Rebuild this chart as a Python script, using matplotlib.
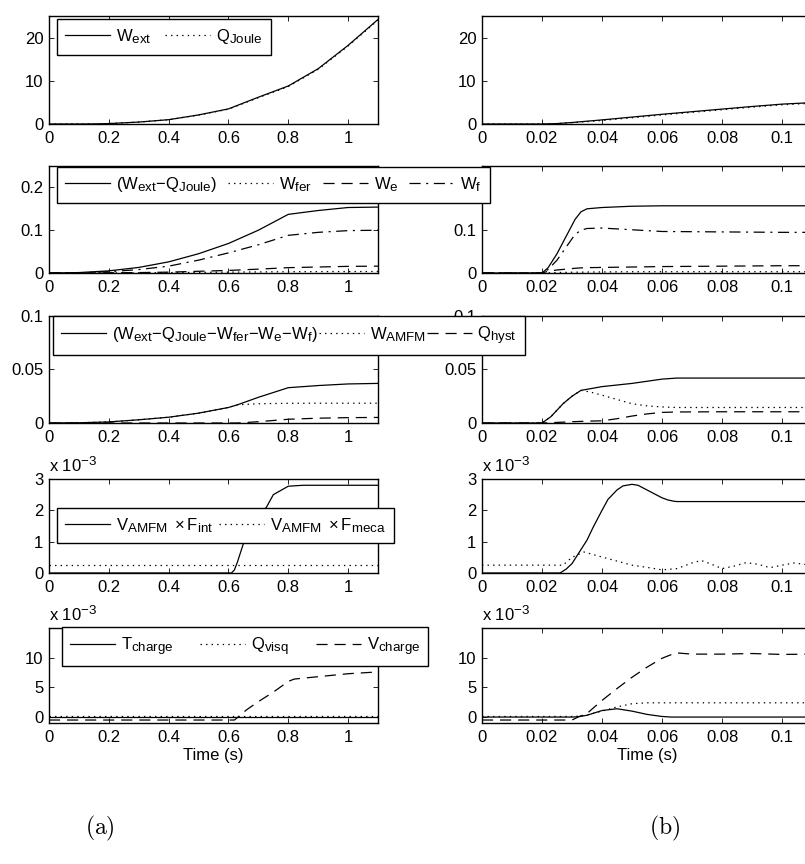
import numpy as np
import matplotlib
matplotlib.use('Agg')
import matplotlib.pyplot as plt
from matplotlib.ticker import FuncFormatter
import matplotlib._mathtext as mt

# MATLAB-style sub/superscripts are a bit larger than mathtext default
mt.SHRINK_FACTOR = 0.8

plt.rcParams['font.family'] = ['Liberation Sans', 'DejaVu Sans']
plt.rcParams['mathtext.fontset'] = 'custom'
plt.rcParams['mathtext.rm'] = 'Liberation Sans'
plt.rcParams['mathtext.it'] = 'Liberation Sans'
plt.rcParams['lines.scale_dashes'] = False

# ---- data (a): slow ramp, (b): fast ramp ----
# row 1: energies
t_a1 = [0, 0.1, 0.15, 0.2, 0.3, 0.4, 0.5, 0.6, 0.7, 0.8, 0.9, 1.0, 1.1]
wext_a = [0, 0, 0.02, 0.1, 0.45, 1.0, 2.1, 3.5, 6.2, 8.8, 12.8, 18.2, 24.2]
qjoule_a = [0, 0, 0.02, 0.1, 0.44, 0.99, 2.07, 3.43, 6.1, 8.66, 12.65, 18.05, 24.05]
t_b1 = [0, 0.02, 0.025, 0.03, 0.035, 0.04, 0.05, 0.06, 0.07, 0.08, 0.09, 0.1, 0.11]
wext_b = [0, 0, 0.1, 0.35, 0.65, 0.95, 1.6, 2.25, 2.85, 3.45, 4.05, 4.6, 4.95]
qjoule_b = [0, 0, 0.09, 0.31, 0.55, 0.82, 1.45, 2.1, 2.7, 3.3, 3.9, 4.45, 4.8]

# row 2
t_a2 = [0, 0.1, 0.2, 0.3, 0.4, 0.5, 0.6, 0.7, 0.8, 0.9, 1.0, 1.1]
dw_a = [0, 0.001, 0.005, 0.013, 0.026, 0.045, 0.069, 0.1, 0.137, 0.146, 0.153, 0.154]
wfer_a = [0, 0, 0.0002, 0.0005, 0.001, 0.0015, 0.002, 0.0025, 0.003, 0.0032, 0.0034, 0.0035]
we_a = [0, 0, 0.0005, 0.001, 0.002, 0.004, 0.006, 0.009, 0.0125, 0.014, 0.0155, 0.016]
wf_a = [0, 0.0005, 0.003, 0.008, 0.016, 0.03, 0.047, 0.066, 0.088, 0.095, 0.099, 0.1]
t_b2 = [0, 0.02, 0.022, 0.025, 0.028, 0.031, 0.033, 0.035, 0.04, 0.05, 0.06, 0.08, 0.1, 0.11]
dw_b = [0, 0, 0.012, 0.045, 0.085, 0.125, 0.143, 0.15, 0.153, 0.156, 0.157, 0.157, 0.157, 0.157]
wfer_b = [0, 0, 0.0005, 0.001, 0.0015, 0.002, 0.002, 0.0022, 0.0025, 0.003, 0.003, 0.003, 0.003, 0.003]
we_b = [0, 0, 0.004, 0.007, 0.009, 0.011, 0.012, 0.0125, 0.013, 0.014, 0.015, 0.016, 0.017, 0.017]
wf_b = [0, 0, 0.008, 0.03, 0.06, 0.09, 0.1, 0.104, 0.105, 0.101, 0.097, 0.096, 0.095, 0.095]

# row 3
t_a3 = [0, 0.1, 0.2, 0.3, 0.4, 0.5, 0.6, 0.63, 0.7, 0.8, 0.9, 1.0, 1.1]
rest_a = [0, 0.0002, 0.001, 0.003, 0.0054, 0.0092, 0.0145, 0.017, 0.024, 0.033, 0.035, 0.0365, 0.037]
wamfm_a = [0, 0.0002, 0.001, 0.003, 0.0054, 0.0092, 0.0145, 0.017, 0.018, 0.0184, 0.0185, 0.0185, 0.0185]
qhyst_a = [0, 0, 0, 0, 0, 0, 0, 0, 0.0012, 0.0035, 0.0045, 0.005, 0.0052]
t_b3 = [0, 0.02, 0.023, 0.027, 0.03, 0.033, 0.036, 0.04, 0.045, 0.05, 0.055, 0.06, 0.065, 0.08, 0.1, 0.11]
rest_b = [0, 0, 0.006, 0.018, 0.025, 0.0305, 0.032, 0.034, 0.0355, 0.037, 0.039, 0.041, 0.042, 0.042, 0.042, 0.042]
wamfm_b = [0, 0, 0.006, 0.018, 0.025, 0.0305, 0.029, 0.026, 0.022, 0.018, 0.016, 0.015, 0.0145, 0.0145, 0.0145, 0.0145]
qhyst_b = [0, 0, 0.0003, 0.0008, 0.0012, 0.0015, 0.0018, 0.002, 0.004, 0.0065, 0.0085, 0.0099, 0.0103, 0.0105, 0.0105, 0.0105]

# row 4: powers, in units of 1e-3
t_a4 = [0, 0.6, 0.61, 0.62, 0.63, 0.65, 0.67, 0.7, 0.727, 0.75, 0.8, 0.85, 0.9, 1.0, 1.1]
pint_a = [0, 0, 0, 0.1, 0.35, 0.94, 1.3, 1.84, 2.1, 2.5, 2.77, 2.8, 2.8, 2.8, 2.8]
t_a4m = [0, 1.1]
pmeca_a = [0.25, 0.25]
t_b4 = [0, 0.026, 0.028, 0.03, 0.032, 0.035, 0.037, 0.04, 0.042, 0.045, 0.047, 0.05, 0.052,
        0.055, 0.057, 0.06, 0.062, 0.064, 0.065, 0.08, 0.1, 0.11]
pint_b = [0, 0, 0.12, 0.3, 0.6, 1.05, 1.45, 2.0, 2.35, 2.65, 2.78, 2.83, 2.8,
          2.65, 2.55, 2.4, 2.33, 2.29, 2.28, 2.28, 2.28, 2.28]
t_b4m = [0, 0.027, 0.03, 0.034, 0.04, 0.045, 0.05, 0.055, 0.06, 0.065, 0.07, 0.073, 0.076,
         0.08, 0.084, 0.088, 0.092, 0.096, 0.1, 0.104, 0.108, 0.11]
pmeca_b = [0.25, 0.25, 0.5, 0.67, 0.51, 0.38, 0.25, 0.18, 0.1, 0.14, 0.32, 0.4, 0.3,
           0.14, 0.22, 0.33, 0.28, 0.17, 0.25, 0.32, 0.27, 0.22]

# row 5: load, in units of 1e-3
t_a5 = [0, 0.62, 0.66, 0.7, 0.75, 0.8, 0.82, 0.9, 1.0, 1.1]
tch_a = [0, 0, 0, 0, 0, 0, 0, 0, 0, 0]
qvisq_a = [0.1, 0.1, 0.1, 0.1, 0.1, 0.1, 0.1, 0.1, 0.1, 0.1]
vch_a = [-0.5, -0.5, 1.2, 2.6, 4.2, 6.0, 6.4, 6.8, 7.3, 7.6]
t_b5 = [0, 0.03, 0.032, 0.035, 0.04, 0.045, 0.05, 0.055, 0.06, 0.063, 0.065, 0.07, 0.08, 0.09, 0.1, 0.11]
tch_b = [0, 0, 0.05, 0.3, 1.1, 1.4, 1.0, 0.45, 0.1, 0, 0, 0, 0, 0, 0, 0]
qvisq_b = [0.1, 0.1, 0.15, 0.35, 1.0, 1.7, 2.25, 2.4, 2.4, 2.4, 2.4, 2.4, 2.4, 2.4, 2.4, 2.4]
vch_b = [-0.5, -0.5, 0.0, 0.6, 2.8, 4.8, 6.7, 8.4, 9.9, 10.5, 10.8, 10.6, 10.6, 10.7, 10.55, 10.6]

lab1 = [r'$\mathrm{W_{ext}}$', r'$\mathrm{Q_{Joule}}$']
lab2 = [r'$\mathrm{(W_{ext}{-}Q_{Joule})}$', r'$\mathrm{W_{fer}}$', r'$\mathrm{W_{e}}$', r'$\mathrm{W_{f}}$']
lab3 = [r'$\mathrm{(W_{ext}{-}Q_{Joule}{-}W_{fer}{-}W_{e}{-}W_{f})}$', r'$\mathrm{W_{AMFM}}$', r'$\mathrm{Q_{hyst}}$']
lab4 = [r'$\mathrm{V_{AMFM}\ \times F_{int}}$', r'$\mathrm{V_{AMFM}\ \times F_{meca}}$']
lab5 = [r'$\mathrm{T_{charge}}$', r'$\mathrm{Q_{visq}}$', r'$\mathrm{V_{charge}}$']

SOLID = '-'
DOT = (0, (1, 3))
DASH = (0, (8, 5))
DASHDOT = (0, (8, 4, 1.5, 4))
LW = 0.9
FS = 12

W, H = 805, 864
fig = plt.figure(figsize=(W / 100, H / 100), dpi=100)

rows = [(16, 124), (166, 273), (316, 423), (479, 573), (628, 723)]
cols = [(49, 378), (482, 812)]
ylims = [(0, 25), (0, 0.25), (0, 0.1), (0, 3), (-1, 15)]
yticks = [[0, 10, 20], [0, 0.1, 0.2], [0, 0.05, 0.1], [0, 1, 2, 3], [0, 5, 10]]

axes = []
for r, (top, bot) in enumerate(rows):
    row = []
    for c, (x0, x1) in enumerate(cols):
        ax = fig.add_axes([x0 / W, 1 - bot / H, (x1 - x0) / W, (bot - top) / H])
        ax.set_ylim(*ylims[r])
        ax.set_yticks(yticks[r])
        if c == 0:
            ax.set_xlim(0, 1.1)
            ax.set_xticks([0, 0.2, 0.4, 0.6, 0.8, 1.0])
        else:
            ax.set_xlim(0, 0.11)
            ax.set_xticks([0, 0.02, 0.04, 0.06, 0.08, 0.1])
        fmt = FuncFormatter(lambda v, p: '%g' % round(v, 6))
        ax.xaxis.set_major_formatter(fmt)
        ax.yaxis.set_major_formatter(fmt)
        ax.tick_params(direction='in', top=True, right=True, length=3.5, width=0.6,
                       labelsize=FS)
        ax.tick_params(axis='x', pad=5)
        ax.tick_params(axis='y', pad=4)
        for s in ax.spines.values():
            s.set_linewidth(1.0)
        row.append(ax)
    axes.append(row)

# the "0.2" label of the right panel in row 2 sits under the legend
axes[1][1].yaxis.set_major_formatter(FuncFormatter(lambda v, p: '' if v > 0.15 else '%g' % round(v, 6)))

def draw(ax, series):
    hs = []
    for t, y, ls in series:
        h, = ax.plot(t, y, color='k', lw=LW, linestyle=ls)
        hs.append(h)
    return hs

h1 = draw(axes[0][0], [(t_a1, wext_a, SOLID), (t_a1, qjoule_a, DOT)])
draw(axes[0][1], [(t_b1, wext_b, SOLID), (t_b1, qjoule_b, DOT)])

h2 = draw(axes[1][0], [(t_a2, dw_a, SOLID), (t_a2, wfer_a, DOT), (t_a2, we_a, DASH), (t_a2, wf_a, DASHDOT)])
draw(axes[1][1], [(t_b2, dw_b, SOLID), (t_b2, wfer_b, DOT), (t_b2, we_b, DASH), (t_b2, wf_b, DASHDOT)])

h3 = draw(axes[2][0], [(t_a3, rest_a, SOLID), (t_a3, wamfm_a, DOT), (t_a3, qhyst_a, DASH)])
draw(axes[2][1], [(t_b3, rest_b, SOLID), (t_b3, wamfm_b, DOT), (t_b3, qhyst_b, DASH)])

h4 = draw(axes[3][0], [(t_a4, pint_a, SOLID), (t_a4m, pmeca_a, DOT)])
draw(axes[3][1], [(t_b4, pint_b, SOLID), (t_b4m, pmeca_b, DOT)])

h5 = draw(axes[4][0], [(t_a5, tch_a, SOLID), (t_a5, qvisq_a, DOT), (t_a5, vch_a, DASH)])
draw(axes[4][1], [(t_b5, tch_b, SOLID), (t_b5, qvisq_b, DOT), (t_b5, vch_b, DASH)])

# multiplier labels
for r in (3, 4):
    for c in (0, 1):
        axes[r][c].annotate(r'x 10$^{-3}$', xy=(0, 1), xycoords='axes fraction',
                            xytext=(0, 3), textcoords='offset points',
                            ha='left', va='bottom', fontsize=FS)

for c in (0, 1):
    axes[4][c].set_xlabel('Time (s)', fontsize=FS, labelpad=2)

# legends: top-left corner in pixels, column spacing
legs = [(h1, lab1, 57, 19, 0.8), (h2, lab2, 57, 167, 0.65), (h3, lab3, 53, 316, 0.05),
        (h4, lab4, 57, 508, 0.35), (h5, lab5, 62, 627, 1.6)]
for hs, labs, lx, ly, cs in legs:
    lg = fig.legend(hs, labs, loc='upper left', bbox_to_anchor=(lx / W, 1 - ly / H),
                    ncol=len(hs), fontsize=FS, frameon=True, fancybox=False,
                    edgecolor='k', framealpha=1, borderaxespad=0, handlelength=2.7,
                    handletextpad=0.35, columnspacing=cs, borderpad=0.5)
    lg.get_frame().set_linewidth(1.0)

fig.text(100 / W, 1 - 828 / H, r'$\mathrm{(a)}$', ha='center', va='center',
         fontsize=17, math_fontfamily='cm')
fig.text(665 / W, 1 - 828 / H, r'$\mathrm{(b)}$', ha='center', va='center',
         fontsize=17, math_fontfamily='cm')

fig.savefig('out.png', dpi=100)
